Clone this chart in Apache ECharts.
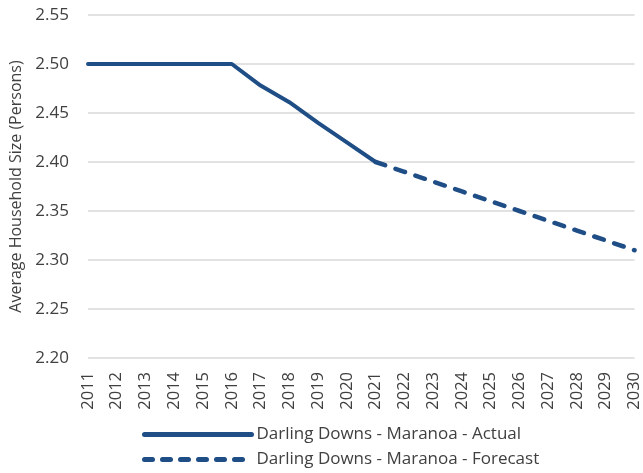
<!DOCTYPE html>
<html><head><meta charset="utf-8">
<script src="https://cdn.jsdelivr.net/npm/echarts@6/dist/echarts.min.js"></script>
<style>html,body{margin:0;padding:0;background:#fff}#c{width:643px;height:473px}</style>
</head><body><div id="c"></div>
<script>
const years = ['2011','2012','2013','2014','2015','2016','2017','2018','2019','2020','2021','2022','2023','2024','2025','2026','2027','2028','2029','2030'];
const actual = [2.50,2.50,2.50,2.50,2.50,2.50,2.478,2.461,2.44,2.42,2.40,null,null,null,null,null,null,null,null,null];
const forecast = [null,null,null,null,null,null,null,null,null,null,2.40,2.39,2.38,2.37,2.36,2.35,2.34,2.33,2.32,2.31];
const yTicks = {min:2.20, max:2.55, interval:0.05};
const seriesNames = ['Darling Downs - Maranoa - Actual','Darling Downs - Maranoa - Forecast'];
const color = '#1f4e86';
const font = 'Open Sans';
const legendBase = {left:137,itemWidth:107,itemHeight:14,itemStyle:{opacity:0},
    textStyle:{fontSize:17,color:'#404040',fontFamily:font}};
const chart = echarts.init(document.getElementById('c'));
chart.setOption({
  animation:false,
  textStyle:{fontFamily:font},
  grid:{left:86,right:7,top:15,bottom:115,containLabel:false},
  xAxis:{type:'category',data:years,boundaryGap:false,
    axisLine:{show:false},axisTick:{show:false},
    axisLabel:{rotate:90,fontSize:16.5,color:'#404040',margin:14,fontFamily:font,interval:0}},
  yAxis:{type:'value',min:yTicks.min,max:yTicks.max,interval:yTicks.interval,
    name:'Average Household Size (Persons)',nameLocation:'middle',nameGap:64,
    nameTextStyle:{fontSize:16,color:'#404040',fontFamily:font},
    axisLine:{show:false},axisTick:{show:false},
    axisLabel:{fontSize:17,color:'#404040',margin:19,fontFamily:font,formatter:v=>v.toFixed(2)},
    splitLine:{lineStyle:{color:'#d9d9d9',width:1.5}}},
  legend:[
    Object.assign({top:421,data:[seriesNames[0]],lineStyle:{width:5}},legendBase),
    Object.assign({top:446,data:[seriesNames[1]],lineStyle:{width:5,type:[8,10],cap:'round'}},legendBase)
  ],
  series:[
    {name:seriesNames[0],type:'line',data:actual,symbol:'none',color:color,
     lineStyle:{width:4,color:color,cap:'round'}},
    {name:seriesNames[1],type:'line',data:forecast,symbol:'none',color:color,
     lineStyle:{width:4.5,color:color,type:[10,11],cap:'round'}}
  ]
});
</script></body></html>
